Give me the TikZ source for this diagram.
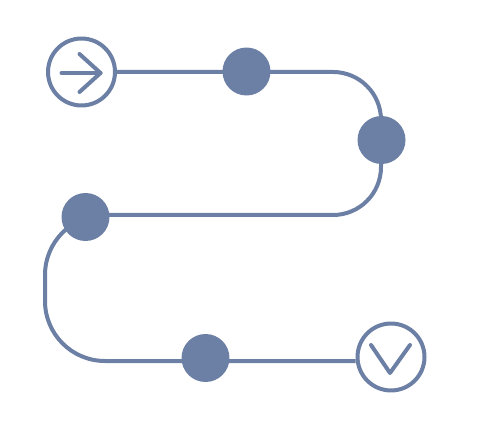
\documentclass[tikz,border=0pt]{standalone}
\usepackage{tikz}
\usepackage{xcolor}
\usetikzlibrary{positioning,calc}

\definecolor{trackblue}{RGB}{108,127,164}

\begin{document}
\begin{tikzpicture}[x=0.02cm, y=-0.02cm,
    track/.style={line width=0.08cm, trackblue},
    endring/.style={circle, draw=trackblue, line width=0.08cm, fill=white, minimum size=1.34cm, inner sep=0pt},
    stopdot/.style={circle, fill=trackblue, minimum size=0.96cm, inner sep=0pt},
    sign/.style={line width=0.08cm, trackblue, line cap=round, line join=round}]
    \useasboundingbox (0,0) rectangle (500,435);

    % Start and finish rings
    \node[endring] (start) at (81.5,72) {};
    \node[endring] (finish) at (391,357) {};

    % Bends of the track
    \coordinate (tr) at (381,72);
    \coordinate (br) at (381,215);
    \coordinate (mid) at (200,215);
    \coordinate (tl) at (45,215);
    \coordinate (bl) at (45,361);

    % The winding track
    \draw[track, rounded corners=0.96cm] (start.east) -- (tr) -- (br) -- (mid);
    \draw[track, rounded corners=1.2cm] (mid) -- (tl) -- (bl) -- (finish.west |- bl);

    % Stops along the way
    \node[stopdot] (stopa) at (246.5,71.5) {};
    \node[stopdot] (stopb) at (381.5,140) {};
    \node[stopdot] (stopc) at (85.5,217) {};
    \node[stopdot] (stopd) at (205.5,358) {};

    % Arrow in the start ring
    \draw[sign] ($(start)+(-20,1)$) -- ($(start)+(19,1)$);
    \draw[sign] ($(start)+(-2,-18)$) -- ($(start)+(19,1)$) -- ($(start)+(-2,20)$);

    % Tick in the finish ring
    \draw[sign] ($(finish)+(-20,-12)$) -- ($(finish)+(-1,16)$) -- ($(finish)+(19,-12)$);
\end{tikzpicture}
\end{document}
